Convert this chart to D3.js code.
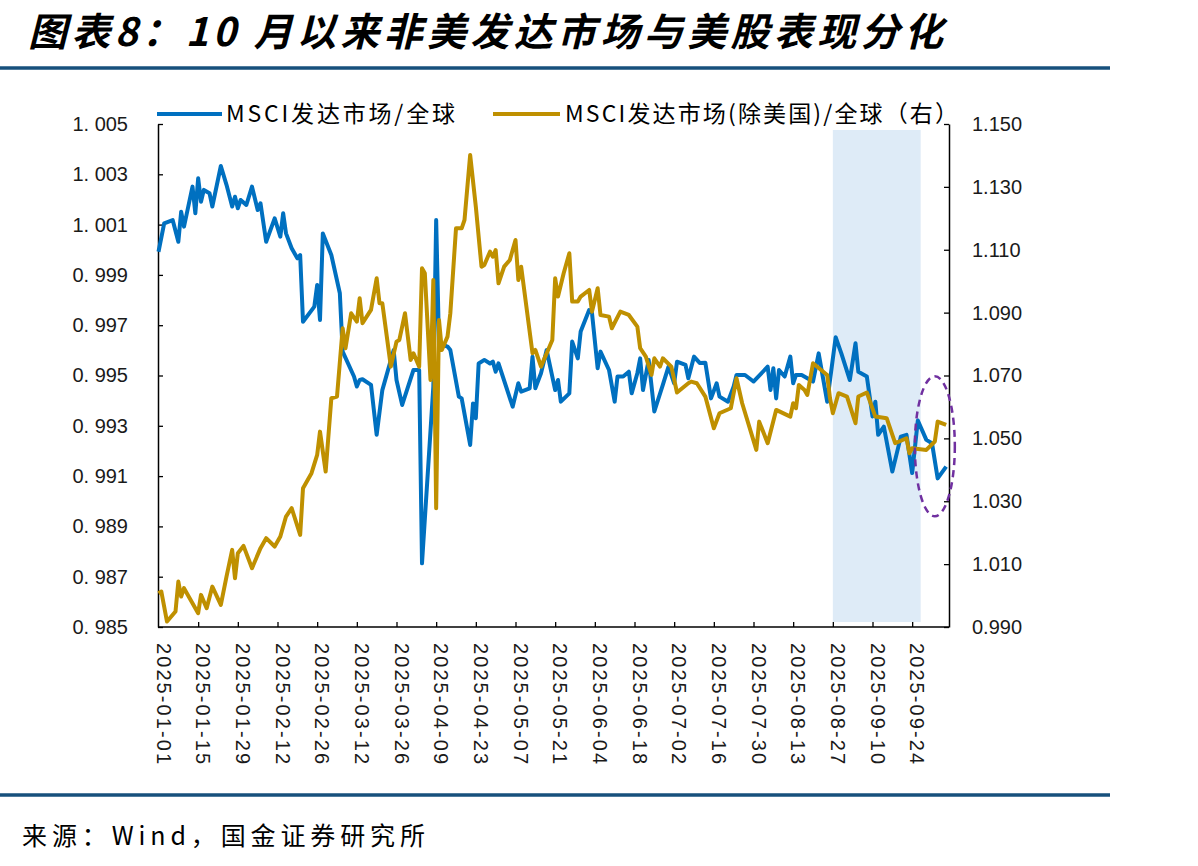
<!DOCTYPE html>
<html>
<head>
<meta charset="utf-8">
<script src="https://cdn.jsdelivr.net/npm/d3@7"></script>
<style>
  body { margin: 0; background: #fff; }
</style>
</head>
<body>
<div id="chart"></div>
<script>
const titleText = '图表8：10 月以来非美发达市场与美股表现分化'
const sourceText = '来源：Wind，国金证券研究所'
const seriesNames = ['MSCI发达市场/全球', 'MSCI发达市场(除美国)/全球（右）']

const year = 2025
const leftTicks = [0.985, 0.987, 0.989, 0.991, 0.993, 0.995, 0.997, 0.999, 1.001, 1.003, 1.005]
const rightTicks = [0.990, 1.010, 1.030, 1.050, 1.070, 1.090, 1.110, 1.130, 1.150]
const xTickDates = ['01-01', '01-15', '01-29', '02-12', '02-26', '03-12', '03-26', '04-09', '04-23', '05-07',
    '05-21', '06-04', '06-18', '07-02', '07-16', '07-30', '08-13', '08-27', '09-10', '09-24']
const dateRange = ['01-01', '10-07']
const shadeRange = ['08-27', '09-27']
const circleAt = ['10-02', 1.0475]   // dashed ellipse centre (date, right-axis value)

// MSCI 发达市场 / 全球 (left axis)
const blueDates = [
    '01-01', '01-03', '01-06', '01-08', '01-09', '01-10', '01-13', '01-14', '01-15', '01-16',
    '01-17', '01-19', '01-20', '01-23', '01-25', '01-27', '01-28', '01-29', '01-30', '02-01',
    '02-03', '02-05', '02-06', '02-08', '02-11', '02-13', '02-14', '02-15', '02-17', '02-19',
    '02-20', '02-21', '02-25', '02-26', '02-27', '02-28', '03-03', '03-06', '03-07', '03-11',
    '03-12', '03-13', '03-14', '03-17', '03-19', '03-21', '03-25', '03-26', '03-28', '04-01',
    '04-03', '04-04', '04-08', '04-09', '04-10', '04-13', '04-14', '04-17', '04-18', '04-21',
    '04-22', '04-23', '04-24', '04-26', '04-28', '04-29', '04-30', '05-01', '05-06', '05-08',
    '05-09', '05-12', '05-13', '05-14', '05-16', '05-18', '05-21', '05-22', '05-23', '05-26',
    '05-27', '05-29', '05-30', '06-02', '06-03', '06-05', '06-06', '06-09', '06-11', '06-12',
    '06-14', '06-16', '06-17', '06-19', '06-20', '06-21', '06-23', '06-25', '06-28', '06-30',
    '07-02', '07-03', '07-06', '07-07', '07-09', '07-11', '07-13', '07-15', '07-17', '07-18',
    '07-21', '07-23', '07-24', '07-27', '07-30', '08-04', '08-05', '08-06', '08-07', '08-08',
    '08-10', '08-12', '08-13', '08-14', '08-16', '08-18', '08-20', '08-22', '08-25', '08-28',
    '08-30', '09-02', '09-04', '09-05', '09-08', '09-10', '09-11', '09-12', '09-14', '09-17',
    '09-20', '09-22', '09-24', '09-26', '09-29', '10-01', '10-03', '10-06']
const blueValues = [
    0.99992, 1.00105, 1.00118, 1.00032, 1.00151, 1.00092, 1.00251, 1.00145, 1.00284, 1.00191,
    1.00238, 1.00225, 1.00172, 1.00333, 1.00258, 1.00172, 1.00211, 1.00165, 1.00198, 1.00178,
    1.00251, 1.00158, 1.00185, 1.00032, 1.00125, 1.00052, 1.00145, 1.00065, 1.00006, 0.99966,
    0.99979, 0.99714, 0.99774, 0.99860, 0.99721, 1.00065, 0.99979, 0.99827, 0.99595, 0.99496,
    0.99456, 0.99482, 0.99485, 0.99463, 0.99264, 0.99442, 0.99601, 0.99482, 0.99383, 0.99522,
    0.99522, 0.98753, 0.99456, 1.00118, 0.99628, 0.99615, 0.99601, 0.99416, 0.99409, 0.99224,
    0.99389, 0.99330, 0.99548, 0.99562, 0.99548, 0.99555, 0.99515, 0.99548, 0.99376, 0.99469,
    0.99436, 0.99449, 0.99575, 0.99449, 0.99509, 0.99601, 0.99442, 0.99482, 0.99396, 0.99429,
    0.99635, 0.99568, 0.99675, 0.99760, 0.99748, 0.99529, 0.99595, 0.99522, 0.99396, 0.99496,
    0.99496, 0.99515, 0.99429, 0.99509, 0.99568, 0.99442, 0.99562, 0.99357, 0.99463, 0.99535,
    0.99469, 0.99555, 0.99542, 0.99489, 0.99575, 0.99550, 0.99551, 0.99409, 0.99469, 0.99416,
    0.99396, 0.99456, 0.99502, 0.99502, 0.99476, 0.99535, 0.99442, 0.99529, 0.99409, 0.99522,
    0.99496, 0.99575, 0.99469, 0.99502, 0.99502, 0.99489, 0.99476, 0.99588, 0.99396, 0.99652,
    0.99588, 0.99482, 0.99628, 0.99515, 0.99496, 0.99337, 0.99396, 0.99264, 0.99297, 0.99118,
    0.99257, 0.99264, 0.99112, 0.99321, 0.99244, 0.99231, 0.99091, 0.99138]

// MSCI 发达市场(除美国) / 全球 (right axis)
const goldDates = [
    '01-01', '01-02', '01-04', '01-07', '01-08', '01-09', '01-10', '01-13', '01-15', '01-16',
    '01-18', '01-20', '01-23', '01-25', '01-27', '01-28', '01-29', '01-31', '02-03', '02-06',
    '02-08', '02-11', '02-13', '02-15', '02-17', '02-20', '02-21', '02-24', '02-26', '02-27',
    '03-01', '03-03', '03-05', '03-07', '03-08', '03-10', '03-12', '03-13', '03-14', '03-17',
    '03-19', '03-20', '03-21', '03-24', '03-26', '03-27', '03-29', '03-31', '04-01', '04-03',
    '04-04', '04-05', '04-07', '04-08', '04-09', '04-10', '04-11', '04-13', '04-14', '04-16',
    '04-18', '04-19', '04-21', '04-23', '04-25', '04-26', '04-28', '04-29', '04-30', '05-01',
    '05-03', '05-05', '05-07', '05-08', '05-09', '05-13', '05-14', '05-16', '05-20', '05-21',
    '05-22', '05-24', '05-26', '05-27', '05-29', '05-30', '06-02', '06-03', '06-05', '06-06',
    '06-09', '06-10', '06-13', '06-16', '06-19', '06-20', '06-22', '06-24', '06-25', '06-27',
    '06-28', '07-01', '07-03', '07-07', '07-08', '07-10', '07-13', '07-16', '07-18', '07-22',
    '07-24', '07-26', '07-31', '08-01', '08-04', '08-07', '08-12', '08-13', '08-14', '08-15',
    '08-17', '08-18', '08-20', '08-25', '08-26', '08-27', '08-29', '09-01', '09-04', '09-05',
    '09-08', '09-11', '09-15', '09-18', '09-22', '09-23', '09-24', '09-29', '10-02', '10-03', '10-06']
const goldValues = [
    1.00075, 1.00128, 0.99173, 0.99491, 1.00445, 0.99968, 1.00235, 0.99758, 0.99440, 1.00022,
    0.99599, 1.00286, 0.99704, 1.00604, 1.01453, 1.00553, 1.01348, 1.01580, 1.00871, 1.01508,
    1.01825, 1.01560, 1.01878, 1.02514, 1.02779, 1.01931, 1.03415, 1.03892, 1.04474, 1.05215,
    1.03943, 1.06277, 1.06330, 1.08503, 1.07867, 1.08980, 1.08713, 1.09457, 1.08665, 1.09085,
    1.10093, 1.09298, 1.09298, 1.07282, 1.08077, 1.08131, 1.08980, 1.07495, 1.07706, 1.07282,
    1.10411, 1.10252, 1.06859, 1.10039, 1.02779, 1.08767, 1.07813, 1.08236, 1.08980, 1.11683,
    1.11683, 1.11947, 1.14014, 1.12370, 1.10462, 1.10516, 1.10939, 1.10780, 1.10993, 1.09934,
    1.10462, 1.10675, 1.11311, 1.10039, 1.10462, 1.07706, 1.07813, 1.07282, 1.08131, 1.10093,
    1.09510, 1.10252, 1.10888, 1.09351, 1.09351, 1.09510, 1.09721, 1.09031, 1.09775, 1.08926,
    1.08872, 1.08503, 1.09031, 1.08926, 1.08556, 1.07867, 1.07600, 1.07018, 1.07548, 1.07282,
    1.07548, 1.07282, 1.06460, 1.06754, 1.06805, 1.06754, 1.06330, 1.05323, 1.05800, 1.05959,
    1.06912, 1.06118, 1.04633, 1.05533, 1.04846, 1.05905, 1.05693, 1.06118, 1.05959, 1.06700,
    1.06541, 1.06382, 1.07390, 1.07018, 1.06277, 1.05800, 1.06436, 1.06330, 1.05482, 1.06330,
    1.06458, 1.05693, 1.05641, 1.04846, 1.05005, 1.04528, 1.04687, 1.04633, 1.04899, 1.05533, 1.05428]

const cfg = {
    w: 1198,
    h: 866,
    plot: { left: 158, right: 949, top: 124, bottom: 627 },
    blue: '#0070C0',
    gold: '#BF9000',
    rule: '#17507C',
    shade: '#DEEBF7',
    lineWidth: 4,
    axisFont: '"Liberation Sans", Arial, sans-serif',
    cjkFont: '"Noto Sans CJK SC", "Noto Sans", sans-serif'
}

const parse = d3.timeParse('%Y-%m-%d')
const toDate = md => parse(`${year}-${md}`)

const svg = d3.select('#chart')
    .append('svg')
    .attr('width', cfg.w)
    .attr('height', cfg.h)
    .style('background', '#fff')

const p = cfg.plot

let x = d3.scaleTime()
    .domain(dateRange.map(toDate))
    .range([p.left + 0.5, p.right])

let yL = d3.scaleLinear()
    .domain([leftTicks[0], leftTicks[leftTicks.length - 1]])
    .range([p.bottom, p.top])

let yR = d3.scaleLinear()
    .domain([rightTicks[0], rightTicks[rightTicks.length - 1]])
    .range([p.bottom, p.top])

// Title and rules
svg.append('text')
    .attr('x', 28)
    .attr('y', 46)
    .attr('font-family', cfg.cjkFont)
    .attr('font-size', 39)
    .attr('font-weight', 'bold')
    .attr('font-style', 'italic')
    .attr('textLength', 915)
    .attr('lengthAdjust', 'spacing')
    .attr('fill', '#000')
    .text(titleText)

svg.selectAll('.rule')
    .data([68, 795]).enter()
    .append('line')
    .attr('class', 'rule')
    .attr('x1', 0).attr('x2', 1110)
    .attr('y1', d => d).attr('y2', d => d)
    .attr('stroke', cfg.rule)
    .attr('stroke-width', 3.5)

svg.append('text')
    .attr('x', 22)
    .attr('y', 845)
    .attr('font-family', cfg.cjkFont)
    .attr('font-size', 25)
    .attr('textLength', 403)
    .attr('lengthAdjust', 'spacing')
    .attr('fill', '#000')
    .text(sourceText)

// Shaded window
svg.append('rect')
    .attr('x', x(toDate(shadeRange[0])))
    .attr('width', x(toDate(shadeRange[1])) - x(toDate(shadeRange[0])))
    .attr('y', p.top + 6)
    .attr('height', p.bottom - p.top - 11)
    .attr('fill', cfg.shade)

// Axes
const leftAxis = svg.append('g')
    .attr('transform', `translate(${p.left}, 0)`)
    .call(d3.axisLeft(yL)
        .tickValues(leftTicks)
        .tickSize(-5)
        .tickSizeOuter(0)
        .tickPadding(30)
        .tickFormat(d => d3.format('.3f')(d).replace('.', '. '))
    )

const rightAxis = svg.append('g')
    .attr('transform', `translate(${p.right}, 0)`)
    .call(d3.axisRight(yR)
        .tickValues(rightTicks)
        .tickSize(-5)
        .tickSizeOuter(0)
        .tickPadding(23)
        .tickFormat(d3.format('.3f'))
    )

const bottomAxis = svg.append('g')
    .attr('transform', `translate(0, ${p.bottom})`)
    .call(d3.axisBottom(x)
        .tickValues(xTickDates.slice(1).map(toDate))
        .tickSize(-5)
        .tickSizeOuter(0)
        .tickFormat('')
    )
bottomAxis.select('.domain').attr('d', `M${p.left},0H${p.right}`)

;[leftAxis, rightAxis, bottomAxis].forEach(g => {
    g.select('.domain').attr('stroke', '#000').attr('stroke-width', 1.5)
    g.selectAll('.tick line').attr('stroke', '#000').attr('stroke-width', 1.3)
    g.selectAll('.tick text')
        .attr('font-family', cfg.axisFont)
        .attr('font-size', 20)
        .attr('fill', '#1a1a1a')
})

// Rotated date labels
svg.selectAll('.xlab')
    .data(xTickDates).enter()
    .append('text')
    .attr('class', 'xlab')
    .attr('transform', d => `translate(${x(toDate(d)) + 5}, 643) rotate(90)`)
    .attr('dy', '0.35em')
    .attr('font-family', cfg.axisFont)
    .attr('font-size', 20)
    .attr('textLength', 121)
    .attr('lengthAdjust', 'spacing')
    .attr('fill', '#1a1a1a')
    .text(d => `${year}-${d}`)

// Lines
const blueData = blueDates.map((d, i) => ({ date: toDate(d), value: blueValues[i] }))
const goldData = goldDates.map((d, i) => ({ date: toDate(d), value: goldValues[i] }))

const lineL = d3.line().x(d => x(d.date)).y(d => yL(d.value))
const lineR = d3.line().x(d => x(d.date)).y(d => yR(d.value))

svg.append('path')
    .attr('fill', 'none')
    .attr('stroke', cfg.blue)
    .attr('stroke-width', cfg.lineWidth)
    .attr('stroke-linejoin', 'round')
    .attr('d', lineL(blueData))

svg.append('path')
    .attr('fill', 'none')
    .attr('stroke', cfg.gold)
    .attr('stroke-width', cfg.lineWidth)
    .attr('stroke-linejoin', 'round')
    .attr('d', lineR(goldData))

// Dashed ellipse
svg.append('ellipse')
    .attr('cx', x(toDate(circleAt[0])))
    .attr('cy', yR(circleAt[1]))
    .attr('rx', 20)
    .attr('ry', 70)
    .attr('fill', 'none')
    .attr('stroke', '#7030A0')
    .attr('stroke-width', 2.5)
    .attr('stroke-dasharray', '7,5')

// Legend
const legend = [
    { name: seriesNames[0], color: cfg.blue, x0: 157, x1: 222, tx: 226, tw: 229 },
    { name: seriesNames[1], color: cfg.gold, x0: 493, x1: 560, tx: 565, tw: 393 }
]
legend.forEach(l => {
    svg.append('line')
        .attr('x1', l.x0).attr('x2', l.x1)
        .attr('y1', 114).attr('y2', 114)
        .attr('stroke', l.color)
        .attr('stroke-width', 4)
    svg.append('text')
        .attr('x', l.tx)
        .attr('y', 122)
        .attr('font-family', cfg.cjkFont)
        .attr('font-size', 23)
        .attr('textLength', l.tw)
        .attr('lengthAdjust', 'spacing')
        .attr('fill', '#000')
        .text(l.name)
})
</script>
</body>
</html>
